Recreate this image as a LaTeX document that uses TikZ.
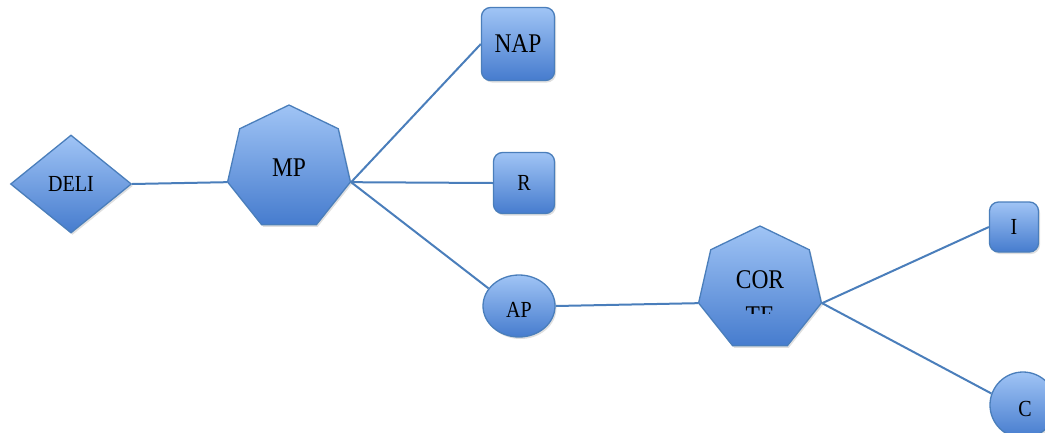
\documentclass[tikz,border=0pt]{standalone}
\usepackage{fontspec}
\setmainfont[FakeStretch=0.87]{Liberation Serif}
\usetikzlibrary{shapes.geometric,shadows}
\definecolor{edgeblue}{RGB}{74,126,187}
\definecolor{topblue}{RGB}{160,196,245}
\definecolor{botblue}{RGB}{70,124,206}
\tikzset{
  shp/.style={draw=edgeblue, line width=1.3pt, top color=topblue, bottom color=botblue,
    inner sep=0pt, drop shadow={opacity=0.25, shadow xshift=1.5pt, shadow yshift=-2pt}},
  hept/.style={shp, regular polygon, regular polygon sides=7, minimum size=126pt},
  rbox/.style={shp, rectangle, rounded corners=9pt},
  conn/.style={draw=edgeblue, line width=2pt},
  big/.style={font=\fontsize{27}{31}\selectfont},
  small/.style={font=\fontsize{23}{27}\selectfont},
}
\begin{document}
\begin{tikzpicture}[x=1pt,y=-1pt]
\useasboundingbox (0,0) rectangle (1045,432);
\clip (0,0) rectangle (1045,432);
\node[shp, diamond, minimum width=121pt, minimum height=98pt, small] (deli) at (71,184) {DELI};
\node[hept, big] (mp) at (289,168) {MP};
\node[rbox, minimum width=73pt, minimum height=73pt, big] (nap) at (518,44) {NAP};
\node[rbox, minimum width=61pt, minimum height=61pt, small] (r) at (524,183) {R};
\node[shp, ellipse, minimum width=72pt, minimum height=62pt] (ap) at (519,306) {};
\node[small, anchor=base] (aptext) at (519,317) {AP};
\node[hept] (corte) at (760,289) {};
\node[rbox, minimum width=49pt, minimum height=50pt, small] (i) at (1014,227) {I};
\node[shp, circle, minimum size=66pt] (c) at (1023,405) {};
\node[small, anchor=base] (ctext) at (1025,416) {C};
\node[big, anchor=base] (cor) at (760,288) {COR};
\begin{scope}
  \clip (700,290) rectangle (820,313);
  \node[big, anchor=base] (te) at (760,324) {TE};
\end{scope}
\draw[conn] (deli.east) -- (mp.corner 3);
\draw[conn] (mp.corner 6) -- (nap.west);
\draw[conn] (mp.corner 6) -- (r.west);
\draw[conn] (mp.corner 6) -- (ap.150);
\draw[conn] (ap.east) -- (corte.corner 3);
\draw[conn] (corte.corner 6) -- (i.west);
\draw[conn] (corte.corner 6) -- (c.160);
\end{tikzpicture}
\end{document}
